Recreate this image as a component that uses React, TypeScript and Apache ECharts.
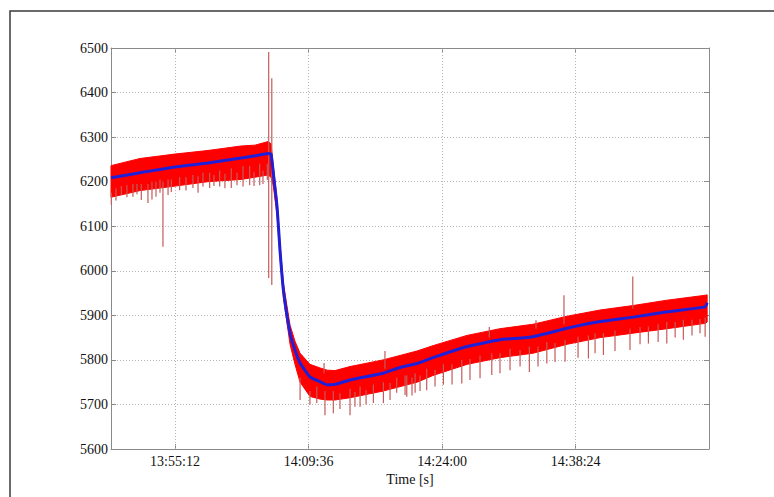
import React, { useEffect, useRef } from 'react';
import * as echarts from 'echarts';

// Tick labels on the time axis (HH:MM:SS)
const xTickLabels = ['13:55:12', '14:09:36', '14:24:00', '14:38:24'];
const xRange = ['13:48:18', '14:52:46'];
const yMin = 5600;
const yMax = 6500;
const yStep = 100;

// Smoothed trend (blue)
const trendTime = [
  '13:48:18', '13:51:26', '13:55:12', '13:58:45', '14:02:19', '14:03:50', '14:05:14', '14:05:33',
  '14:05:48', '14:06:12', '14:06:31', '14:06:53', '14:07:36', '14:08:08', '14:08:41', '14:09:45',
  '14:10:50', '14:11:35', '14:12:27', '14:14:04', '14:17:38', '14:19:28', '14:21:18', '14:23:01',
  '14:26:41', '14:30:14', '14:33:48', '14:37:28', '14:41:02', '14:44:35', '14:48:15', '14:52:21', '14:52:34',
];
const trendValue = [
  6209, 6220, 6233, 6242, 6253, 6258, 6263, 6262,
  6219, 6144, 6047, 5957, 5860, 5822, 5793, 5762,
  5751, 5744, 5745, 5755, 5770, 5783, 5792, 5805,
  5830, 5845, 5852, 5871, 5886, 5896, 5908, 5919, 5928,
];
// Raw signal dense envelope (red)
const bandUpper = [
  6236, 6252, 6262, 6270, 6280, 6282, 6290, 6285,
  6235, 6160, 6062, 5972, 5878, 5842, 5815, 5790,
  5782, 5777, 5776, 5785, 5800, 5810, 5820, 5832,
  5855, 5870, 5880, 5898, 5912, 5922, 5934, 5945, 5946,
];
const bandLower = [
  6165, 6180, 6190, 6200, 6205, 6210, 6215, 6210,
  6190, 6125, 6030, 5940, 5835, 5790, 5750, 5718,
  5712, 5710, 5710, 5715, 5730, 5740, 5750, 5765,
  5790, 5805, 5815, 5835, 5850, 5860, 5870, 5882, 5885,
];
// Individual outliers of the raw signal
const spikeTime = [
  '13:48:20', '13:49:25', '13:50:40', '13:51:34', '13:52:17', '13:53:09', '13:53:54', '13:54:48',
  '13:55:42', '13:57:08', '13:58:13', '13:58:56', '14:00:01', '14:01:16', '14:02:32', '14:03:15',
  '14:04:20', '14:05:09', '14:05:18', '14:05:38', '14:08:41', '14:10:29', '14:11:16', '14:11:22',
  '14:12:16', '14:14:04', '14:15:09', '14:16:35', '14:17:40', '14:17:50', '14:19:06', '14:20:00',
  '14:20:11', '14:21:05', '14:22:20', '14:24:08', '14:26:07', '14:28:05', '14:29:05', '14:29:21',
  '14:31:19', '14:33:24', '14:34:07', '14:35:17', '14:37:08', '14:37:15', '14:39:46', '14:41:23',
  '14:44:15', '14:44:33', '14:46:14', '14:48:13', '14:50:00', '14:52:21',
];
const spikeLow = [
  6148, 6170, 6166, 6159, 6152, 6166, 6054, 6177,
  6181, 6186, 6189, 6186, 6189, 6186, 6189, 6192,
  6192, 6204, 5984, 5968, 5710, 5703, 5770, 5676,
  5680, 5676, 5695, 5703, 5703, 5780, 5726, 5721,
  5717, 5726, 5732, 5744, 5747, 5759, 5850, 5766,
  5777, 5773, 5870, 5792, 5880, 5796, 5803, 5811,
  5822, 5915, 5837, 5837, 5845, 5852,
];
const spikeHigh = [
  6175, 6190, 6195, 6195, 6195, 6200, 6200, 6205,
  6210, 6215, 6220, 6220, 6225, 6230, 6235, 6235,
  6240, 6240, 6491, 6432, 5760, 5740, 5793, 5730,
  5730, 5735, 5740, 5745, 5750, 5820, 5760, 5765,
  5765, 5770, 5780, 5790, 5800, 5810, 5874, 5815,
  5825, 5830, 5889, 5840, 5945, 5845, 5855, 5860,
  5870, 5987, 5875, 5885, 5890, 5895,
];
// Shorter fringe spikes along the lower edge of the raw signal
const fringeTime = [
  '13:48:50', '13:50:01', '13:51:06', '13:52:43', '13:53:35', '13:54:27', '13:56:23', '13:57:41',
  '13:59:24', '14:00:35', '14:01:53', '14:03:43', '14:04:41', '14:09:45', '14:12:59', '14:14:36',
  '14:15:48', '14:18:23', '14:20:45', '14:21:37', '14:23:14', '14:25:04', '14:27:00', '14:30:14',
  '14:32:24', '14:34:20', '14:36:10', '14:38:39', '14:40:29', '14:42:38', '14:45:20', '14:47:17',
  '14:49:07', '14:50:56', '14:51:48',
];
const fringeLow = [
  6158, 6165, 6172, 6160, 6175, 6170, 6180, 6175,
  6190, 6185, 6192, 6190, 6195, 5700, 5690, 5695,
  5700, 5710, 5720, 5730, 5740, 5745, 5755, 5770,
  5785, 5785, 5795, 5805, 5815, 5820, 5835, 5840,
  5850, 5855, 5860,
];
const fringeHigh = [
  6185, 6192, 6195, 6200, 6205, 6205, 6210, 6212,
  6215, 6218, 6220, 6222, 6225, 5730, 5725, 5728,
  5732, 5748, 5760, 5765, 5778, 5790, 5802, 5815,
  5822, 5830, 5838, 5852, 5860, 5866, 5874, 5880,
  5885, 5890, 5892,
];

const toSec = (s: string) => {
  const [h, m, x] = s.split(':').map(Number);
  return h * 3600 + m * 60 + x;
};
const pad = (n: number) => String(n).padStart(2, '0');
const fmtTime = (v: number) => {
  const t = Math.round(v);
  return `${pad(Math.floor(t / 3600))}:${pad(Math.floor((t % 3600) / 60))}:${pad(t % 60)}`;
};

const FONT = "'Liberation Serif', 'Times New Roman', 'DejaVu Serif', serif";

export default function App() {
  const ref = useRef<HTMLDivElement>(null);
  useEffect(() => {
    document.body.style.margin = '0';
    if (!ref.current) return;
    const chart = echarts.init(ref.current, undefined, { renderer: 'svg' });
    const tickVals = xTickLabels.map(toSec);
    const xMin = toSec(xRange[0]);
    const xMax = toSec(xRange[1]);

    const bandData = trendTime.map((t, i) => [toSec(t), bandUpper[i], bandLower[i]]);
    const spikeData = spikeTime
      .map((t, i) => [toSec(t), spikeLow[i], spikeHigh[i]])
      .concat(fringeTime.map((t, i) => [toSec(t), fringeLow[i], fringeHigh[i]]));
    const trendData = trendTime.map((t, i) => [toSec(t), trendValue[i]]);

    const axisLineStyle = { color: '#8a8a8a', width: 1 };

    chart.setOption({
      animation: false,
      backgroundColor: '#ffffff',
      textStyle: { fontFamily: FONT },
      graphic: [
        {
          type: 'rect',
          shape: { x: 10, y: 11, width: 800, height: 520 },
          style: { fill: 'none', stroke: '#3a3a3a', lineWidth: 1.5 },
          silent: true,
        },
      ],
      grid: { left: 111, top: 48, width: 598, height: 401, containLabel: false },
      xAxis: [
        {
          type: 'value',
          min: xMin,
          max: xMax,
          position: 'bottom',
          name: 'Time [s]',
          nameLocation: 'middle',
          nameGap: 22,
          nameTextStyle: { fontFamily: FONT, fontSize: 14, color: '#111' },
          axisLine: { show: true, onZero: false, lineStyle: axisLineStyle },
          axisTick: { show: true, inside: true, length: 5, customValues: tickVals, lineStyle: axisLineStyle },
          axisLabel: {
            customValues: tickVals,
            formatter: (v: number) => fmtTime(v),
            fontFamily: FONT,
            fontSize: 14,
            color: '#111',
            margin: 5,
          },
          splitLine: { show: false },
        },
        {
          type: 'value',
          min: xMin,
          max: xMax,
          position: 'top',
          axisLine: { show: true, onZero: false, lineStyle: axisLineStyle },
          axisTick: { show: true, inside: true, length: 5, customValues: tickVals, lineStyle: axisLineStyle },
          axisLabel: { show: false },
          splitLine: { show: false },
        },
      ],
      yAxis: [
        {
          type: 'value',
          min: yMin,
          max: yMax,
          interval: yStep,
          position: 'left',
          axisLine: { show: true, onZero: false, lineStyle: axisLineStyle },
          axisTick: { show: true, inside: true, length: 5, lineStyle: axisLineStyle },
          axisLabel: {
            fontFamily: FONT,
            fontSize: 14,
            color: '#111',
            margin: 3,
            formatter: (v: number) => String(v),
          },
          splitLine: { show: true, lineStyle: { color: '#b4b4b4', type: [1, 2], width: 1 } },
        },
        {
          type: 'value',
          min: yMin,
          max: yMax,
          interval: yStep,
          position: 'right',
          axisLine: { show: true, onZero: false, lineStyle: axisLineStyle },
          axisTick: { show: true, inside: true, length: 5, lineStyle: axisLineStyle },
          axisLabel: { show: false },
          splitLine: { show: false },
        },
      ],
      series: [
        {
          type: 'line',
          data: [],
          silent: true,
          markLine: {
            silent: true,
            symbol: ['none', 'none'],
            label: { show: false },
            z: 1,
            lineStyle: { color: '#b4b4b4', type: [1, 2], width: 1 },
            data: tickVals.map((v) => ({ xAxis: v })),
          },
        },
        {
          type: 'custom',
          z: 3,
          silent: true,
          data: [0],
          renderItem: (params: any, api: any) => {
            const top = bandData.map((d) => api.coord([d[0], d[1]]));
            const bot = bandData.map((d) => api.coord([d[0], d[2]])).reverse();
            return {
              type: 'polygon',
              shape: { points: top.concat(bot) },
              style: { fill: '#ff0000', stroke: '#ff0000', lineWidth: 1 },
            };
          },
        },
        {
          type: 'custom',
          z: 4,
          silent: true,
          data: spikeData,
          encode: { x: 0, y: [1, 2] },
          renderItem: (params: any, api: any) => {
            const p1 = api.coord([api.value(0), api.value(1)]);
            const p2 = api.coord([api.value(0), api.value(2)]);
            return {
              type: 'line',
              shape: { x1: p1[0], y1: p1[1], x2: p2[0], y2: p2[1] },
              style: { stroke: '#c45a5a', lineWidth: 1.2 },
            };
          },
        },
        {
          type: 'line',
          z: 5,
          data: trendData,
          showSymbol: false,
          symbol: 'none',
          smooth: 0.15,
          lineStyle: { color: '#1f1fd8', width: 3 },
        },
      ],
    });
    return () => chart.dispose();
  }, []);
  return <div ref={ref} style={{ width: 774, height: 497 }} />;
}
